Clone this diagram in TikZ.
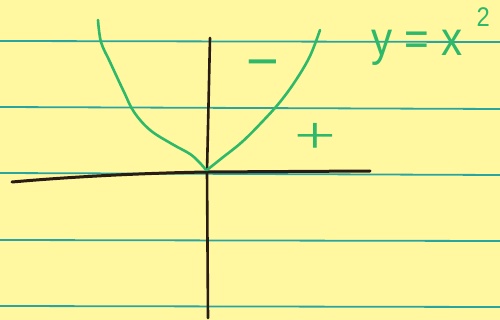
\documentclass[tikz,border=0pt]{standalone}
\usepackage{fontspec}
\setmainfont{Liberation Sans}
\newfontfamily\serifpen{Liberation Serif}
\definecolor{paper}{RGB}{255,248,160}
\definecolor{rule}{RGB}{40,165,160}
\definecolor{pen}{RGB}{46,184,106}
\definecolor{ink}{RGB}{40,28,20}
\tikzset{
  ruling/.style={draw=rule, line width=1.8pt},
  axis/.style={draw=ink, line width=3pt, line cap=round},
  curve/.style={draw=pen, line width=2.6pt, line cap=round, line join=round},
  pentext/.style={text=pen, inner sep=0pt, outer sep=0pt}
}
\begin{document}
\begin{tikzpicture}[x=1pt,y=-1pt]
  \fill[paper] (0,0) rectangle (500,320);
  \useasboundingbox (0,0) rectangle (500,320);
  % ruled lines
  \draw[ruling] (0,41) -- (500,42);
  \draw[ruling] (0,107) -- (500,109);
  \draw[ruling] (0,173) -- (500,175);
  \draw[ruling] (0,240) -- (500,241);
  \draw[ruling] (0,306) -- (500,307);
  % axes
  \coordinate (o) at (207,172);
  \draw[axis] (12,182) .. controls (80,176) and (150,173) .. (o) -- (370,171);
  \draw[axis, line width=2.6pt] (210,38) -- (o) -- (208,318);
  % parabola
  \draw[curve] plot[smooth, tension=0.6] coordinates {(98,20) (101,42) (110,62) (124,92) (134,112) (150,130) (172,144) (190,154) (200,163) (206,170)};
  \draw[curve] plot[smooth, tension=0.6] coordinates {(207,170) (222,158) (242,142) (262,122) (280,102) (296,80) (310,56) (320,30)};
  % signs
  \node[pentext, font=\fontsize{56}{56}\selectfont] (minus) at (263,70) {−};
  \node[pentext, font=\serifpen\fontsize{74}{74}\selectfont, yscale=0.72] (plus) at (315,138) {+};
  % label
  \node[pentext, anchor=base west, font=\fontsize{48}{48}\selectfont, xscale=0.88] (eq) at (371,56)
    {y\hspace{14pt}=\hspace{14pt}x\hspace{16pt}\raisebox{29pt}{\fontsize{27}{27}\selectfont 2}};
\end{tikzpicture}
\end{document}
